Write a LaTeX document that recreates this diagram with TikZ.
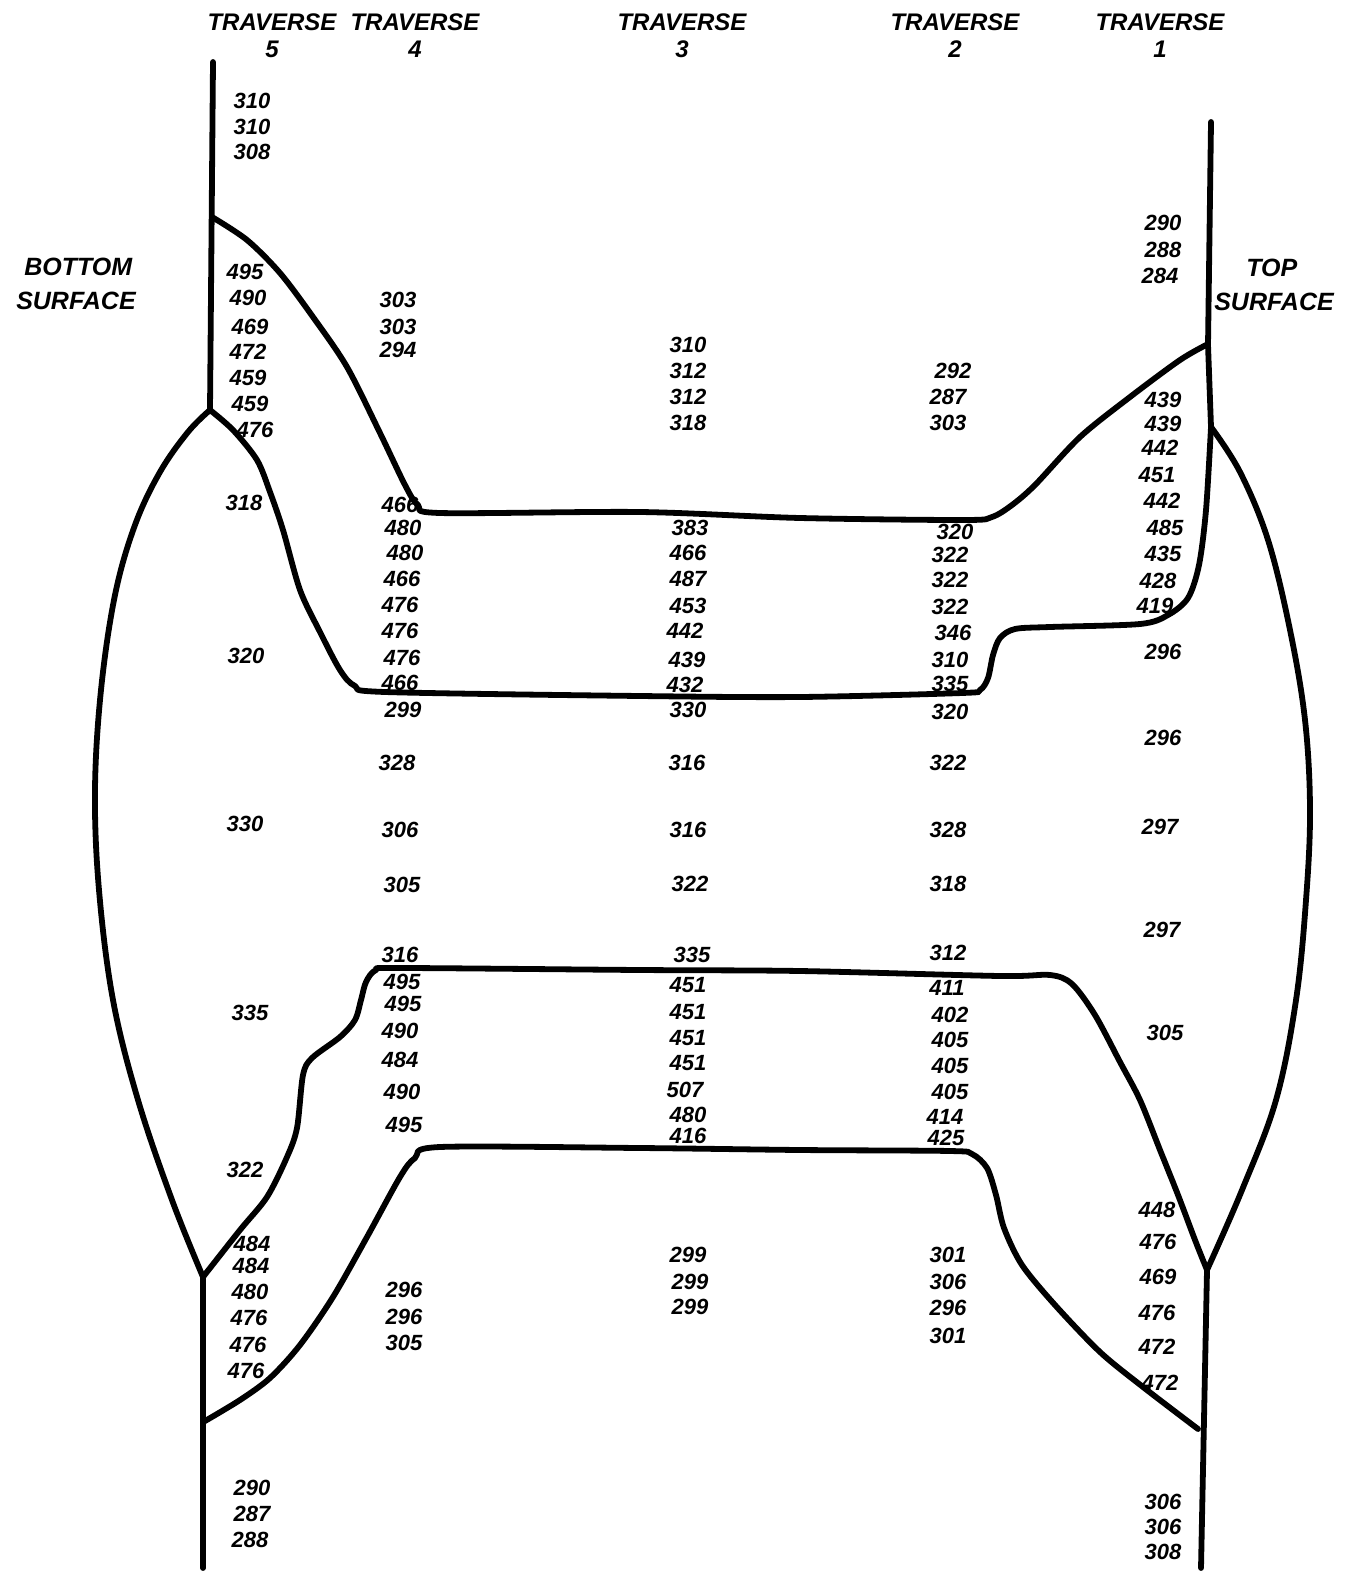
\documentclass[tikz,border=0pt]{standalone}
\usepackage{fontspec}
\setmainfont{Liberation Sans}
\begin{document}
\begin{tikzpicture}[x=0.5pt,y=-0.5pt,
  wall/.style={line width=2.9pt,line join=round,line cap=round},
  num/.style={inner sep=0pt,font=\fontsize{11}{11}\selectfont\bfseries\itshape},
  head/.style={inner sep=0pt,align=center,font=\fontsize{12}{13.5}\selectfont\bfseries\itshape},
  side/.style={inner sep=0pt,align=left,font=\fontsize{12.5}{17}\selectfont\bfseries\itshape}]
\useasboundingbox (0,0) rectangle (1356,1572);

% surface lines and branch points
\coordinate (lt) at (213,62);
\coordinate (lj) at (210,410);
\coordinate (lk) at (203,1277);
\coordinate (lb) at (203,1568);
\coordinate (rt) at (1211,122);
\coordinate (rj) at (1211,427);
\coordinate (rk) at (1207,1270);
\coordinate (rb) at (1201,1568);

\draw[wall] (lt) -- (lj);
\draw[wall] (lk) -- (lb);
\draw[wall] (rt) -- (1208,345) -- (rj);
\draw[wall] (rk) -- (rb);

% outer lens contours
\draw[wall] plot[smooth,tension=0.6] coordinates {(lj) (188,432) (160,472) (135,525) (115,595) (101,690) (95,790) (99,890) (113,1000) (138,1100) (172,1200) (lk)};
\draw[wall] plot[smooth,tension=0.6] coordinates {(rj) (1240,472) (1268,540) (1290,630) (1305,720) (1310,810) (1306,900) (1296,1000) (1276,1100) (1242,1190) (rk)};

% upper zone boundary
\draw[wall] plot[smooth,tension=0.5] coordinates {(212,217) (247,240) (280,273) (313,317) (347,367) (380,433) (405,485) (418,505) (440,513) (640,512) (800,518) (965,520) (992,517) (1012,505) (1035,485) (1080,437) (1130,397) (1180,360) (1208,344)};

% middle zone boundary
\draw[wall] plot[smooth,tension=0.5] coordinates {(lj) (233,430) (257,460) (270,492) (283,530) (300,590) (320,632) (340,670) (355,686) (385,692) (640,696) (800,697) (962,693) (980,690) (988,678) (993,655) (1000,638) (1015,629) (1050,627) (1140,624) (1168,615) (1188,598) (1199,565) (1206,510) (rj)};

% lower zone, upper boundary
\draw[wall] plot[smooth,tension=0.5] coordinates {(lk) (240,1230) (267,1197) (287,1157) (297,1128) (303,1075) (312,1058) (340,1037) (355,1020) (361,1000) (366,982) (376,970) (400,968) (640,970) (800,971) (1000,976) (1050,975) (1072,984) (1095,1015) (1120,1062) (1140,1100) (1160,1150) (1178,1195) (1195,1240) (rk)};

% lower zone, lower boundary
\draw[wall] plot[smooth,tension=0.5] coordinates {(205,1421) (240,1400) (270,1378) (300,1345) (333,1297) (367,1237) (400,1177) (415,1158) (440,1147) (640,1148) (800,1150) (950,1151) (972,1154) (987,1168) (996,1195) (1004,1228) (1022,1265) (1055,1305) (1100,1352) (1143,1387) (1198,1429)};

% headings
\node[head] (h5) at (272,36) {TRAVERSE\\5};
\node[head] (h4) at (415,36) {TRAVERSE\\4};
\node[head] (h3) at (682,36) {TRAVERSE\\3};
\node[head] (h2) at (955,36) {TRAVERSE\\2};
\node[head] (h1) at (1160,36) {TRAVERSE\\1};
\node[side] (bs) at (76,284) {\hspace*{4pt}BOTTOM\\SURFACE};
\node[side] (ts) at (1274,285) {\hspace*{16pt}TOP\\SURFACE};

% readings, traverse 5
\foreach \x/\y/\t [count=\i] in {252/101/310,252/127/310,252/152/308,
  245/272/495,248/298/490,250/327/469,248/352/472,248/378/459,250/404/459,255/430/476,
  244/503/318,246/656/320,245/824/330,250/1013/335,245/1170/322,
  252/1244/484,251/1266/484,250/1292/480,249/1318/476,248/1345/476,246/1371/476,
  252/1488/290,252/1514/287,250/1540/288}
  \node[num] (five\i) at (\x,\y) {\t};

% readings, traverse 4
\foreach \x/\y/\t [count=\i] in {398/300/303,398/327/303,398/350/294,
  400/505/466,403/528/480,405/553/480,402/579/466,400/605/476,400/631/476,402/658/476,400/683/466,403/710/299,
  397/763/328,400/830/306,402/885/305,400/955/316,
  402/982/495,403/1004/495,400/1031/490,400/1060/484,402/1092/490,404/1125/495,
  404/1290/296,404/1317/296,404/1343/305}
  \node[num] (four\i) at (\x,\y) {\t};

% readings, traverse 3
\foreach \x/\y/\t [count=\i] in {688/345/310,688/371/312,688/397/312,688/423/318,
  690/528/383,688/553/466,688/579/487,688/606/453,685/631/442,687/660/439,685/685/432,688/710/330,
  687/763/316,688/830/316,690/884/322,692/955/335,
  688/985/451,688/1012/451,688/1038/451,688/1063/451,685/1090/507,688/1115/480,688/1136/416,
  688/1255/299,690/1282/299,690/1307/299}
  \node[num] (three\i) at (\x,\y) {\t};

% readings, traverse 2
\foreach \x/\y/\t [count=\i] in {953/371/292,948/397/287,948/423/303,
  955/532/320,950/555/322,950/580/322,950/607/322,953/633/346,950/660/310,950/684/335,950/712/320,
  948/763/322,948/830/328,948/884/318,948/953/312,
  947/988/411,950/1015/402,950/1040/405,950/1066/405,950/1092/405,945/1117/414,946/1138/425,
  948/1255/301,948/1282/306,948/1308/296,948/1336/301}
  \node[num] (two\i) at (\x,\y) {\t};

% readings, traverse 1
\foreach \x/\y/\t [count=\i] in {1163/223/290,1163/250/288,1160/276/284,
  1163/400/439,1163/424/439,1160/448/442,1157/475/451,1162/501/442,1165/528/485,1163/554/435,1158/581/428,1155/606/419,
  1163/652/296,1163/738/296,1160/827/297,1162/930/297,1165/1033/305,
  1157/1210/448,1158/1242/476,1158/1277/469,1157/1313/476,1157/1347/472,1160/1383/472,
  1163/1502/306,1163/1527/306,1163/1552/308}
  \node[num] (one\i) at (\x,\y) {\t};
\end{tikzpicture}
\end{document}
